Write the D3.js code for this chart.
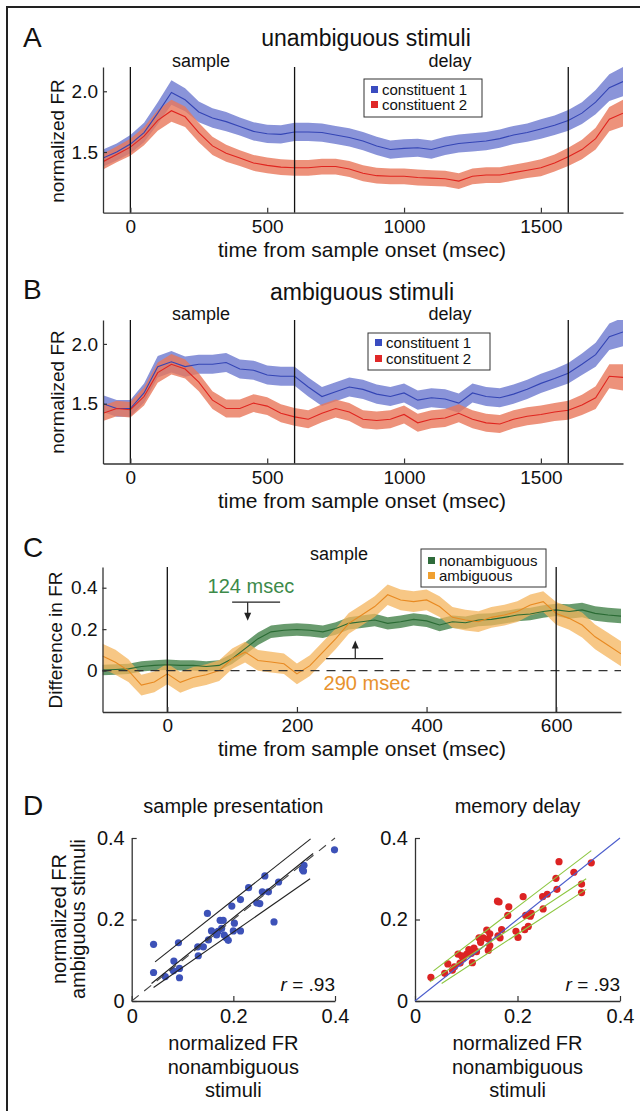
<!DOCTYPE html>
<html>
<head>
<meta charset="utf-8">
<script src="https://cdn.jsdelivr.net/npm/d3@7"></script>
<style>
  body { margin: 0; background: #fff; }
  text { font-family: "Liberation Sans", Arial, Helvetica, sans-serif; }
</style>
</head>
<body>
<div id="fig"></div>
<script>
// ---- panel A / B : normalized FR time courses (50 ms grid) ----
var timesAB = [-100,-50,0,50,100,150,200,250,300,350,400,450,500,550,600,650,700,750,800,850,
  900,950,1000,1050,1100,1150,1200,1250,1300,1350,1400,1450,1500,1550,1600,1650,1700,1750,1800];

var unambigC1 = [1.45,1.50,1.565,1.66,1.82,1.99,1.93,1.83,1.78,1.75,1.71,1.67,1.65,1.645,1.665,1.665,1.66,1.64,1.62,1.59,
  1.55,1.52,1.53,1.535,1.52,1.55,1.57,1.58,1.59,1.61,1.64,1.66,1.69,1.72,1.76,1.82,1.91,2.03,2.08];
var unambigC1Sem = [0.07,0.07,0.075,0.08,0.09,0.10,0.095,0.085,0.08,0.08,0.075,0.075,0.075,0.075,0.075,0.075,0.075,0.075,0.075,0.075,
  0.075,0.075,0.075,0.075,0.075,0.075,0.075,0.075,0.075,0.075,0.075,0.075,0.08,0.08,0.085,0.09,0.10,0.11,0.12];
var unambigC2 = [1.42,1.48,1.54,1.63,1.76,1.84,1.79,1.66,1.55,1.49,1.45,1.41,1.39,1.375,1.37,1.37,1.38,1.38,1.36,1.325,
  1.305,1.30,1.30,1.29,1.285,1.28,1.26,1.30,1.31,1.31,1.33,1.35,1.37,1.41,1.46,1.52,1.61,1.77,1.82];
var unambigC2Sem = [0.065,0.065,0.07,0.075,0.085,0.09,0.085,0.08,0.075,0.07,0.065,0.065,0.065,0.065,0.065,0.065,0.065,0.065,0.065,0.065,
  0.065,0.065,0.065,0.065,0.065,0.065,0.065,0.065,0.065,0.065,0.065,0.065,0.07,0.07,0.075,0.08,0.09,0.10,0.11];

var ambigC1 = [1.50,1.46,1.46,1.59,1.81,1.85,1.81,1.83,1.83,1.845,1.79,1.78,1.74,1.73,1.73,1.64,1.56,1.60,1.64,1.62,
  1.58,1.56,1.59,1.53,1.55,1.54,1.505,1.59,1.56,1.55,1.58,1.62,1.67,1.71,1.755,1.83,1.91,2.06,2.10];
var ambigC1Sem = [0.07,0.07,0.07,0.08,0.09,0.09,0.085,0.08,0.08,0.08,0.08,0.08,0.08,0.08,0.08,0.08,0.08,0.08,0.08,0.08,
  0.08,0.08,0.08,0.08,0.08,0.08,0.08,0.08,0.08,0.08,0.08,0.08,0.08,0.08,0.085,0.09,0.10,0.11,0.12];
var ambigC2 = [1.42,1.46,1.45,1.56,1.76,1.83,1.79,1.68,1.53,1.46,1.46,1.505,1.48,1.42,1.39,1.37,1.42,1.46,1.43,1.37,
  1.36,1.37,1.41,1.34,1.37,1.38,1.42,1.37,1.34,1.33,1.37,1.395,1.41,1.43,1.445,1.49,1.55,1.73,1.72];
var ambigC2Sem = [0.065,0.065,0.065,0.075,0.085,0.085,0.08,0.075,0.075,0.075,0.075,0.075,0.075,0.075,0.075,0.075,0.075,0.075,0.075,0.075,
  0.075,0.075,0.075,0.075,0.075,0.075,0.075,0.075,0.075,0.075,0.075,0.075,0.075,0.075,0.08,0.085,0.095,0.10,0.11];

var abTicksX = [0, 500, 1000, 1500];
var abTicksY = [1.5, 2.0];
var abEvents = [0, 600, 1600];

// ---- panel C : difference in FR (20 ms grid) ----
var timesC = [-100,-80,-60,-40,-20,0,20,40,60,80,100,120,140,160,180,200,220,240,260,280,300,
  320,340,360,380,400,420,440,460,480,500,520,540,560,580,600,620,640,660,680,700];
var diffNonambig = [0.003,0.005,0.008,0.02,0.025,0.028,0.025,0.025,0.02,0.025,0.057,0.106,0.154,0.187,0.195,0.198,0.195,0.187,0.203,0.228,0.236,
  0.244,0.228,0.236,0.247,0.24,0.22,0.236,0.231,0.244,0.247,0.257,0.268,0.273,0.285,0.293,0.285,0.293,0.276,0.268,0.263];
var diffNonambigSem = [0.025,0.025,0.025,0.025,0.025,0.025,0.025,0.025,0.025,0.025,0.025,0.03,0.03,0.03,0.03,0.03,0.03,0.03,0.03,0.03,0.03,
  0.03,0.03,0.03,0.03,0.03,0.03,0.03,0.03,0.03,0.03,0.03,0.03,0.03,0.03,0.03,0.035,0.035,0.035,0.035,0.035];
var diffAmbig = [0.07,0.04,0.0,-0.07,-0.055,-0.016,-0.057,-0.033,-0.02,0.0,0.057,0.089,0.049,0.041,0.033,-0.016,0.024,0.089,0.154,0.228,0.268,
  0.309,0.366,0.341,0.333,0.341,0.309,0.257,0.244,0.236,0.257,0.268,0.285,0.317,0.333,0.276,0.252,0.22,0.163,0.122,0.081];
var diffAmbigSem = [0.06,0.06,0.055,0.05,0.05,0.05,0.05,0.05,0.05,0.05,0.05,0.05,0.05,0.05,0.05,0.05,0.05,0.05,0.05,0.05,0.05,
  0.05,0.05,0.05,0.05,0.05,0.05,0.05,0.05,0.05,0.05,0.05,0.05,0.05,0.05,0.055,0.055,0.06,0.06,0.06,0.06];
var cTicksX = [0, 200, 400, 600];
var cTicksY = [0, 0.2, 0.4];
var cEvents = [0, 600];

// ---- panel D : scatter of normalized FR ----
var sampleX = [0.043,0.043,0.066,0.083,0.082,0.094,0.094,0.092,0.130,0.131,0.141,0.149,0.151,0.157,0.167,0.170,0.174,0.177,0.180,0.182,
  0.186,0.190,0.197,0.200,0.202,0.214,0.214,0.230,0.246,0.252,0.257,0.262,0.269,0.280,0.289,0.338,0.339,0.336,0.399];
var sampleY = [0.139,0.070,0.060,0.098,0.074,0.080,0.057,0.143,0.133,0.111,0.133,0.215,0.150,0.172,0.162,0.171,0.198,0.178,0.198,0.162,
  0.155,0.149,0.233,0.172,0.191,0.172,0.249,0.278,0.241,0.239,0.268,0.307,0.268,0.194,0.292,0.319,0.333,0.323,0.371];
var sampleFits = [[0.046,0.096,0.352,0.398],[0.039,0.043,0.357,0.362],[0.043,0.033,0.351,0.300]];

var delayX = [0.031,0.058,0.064,0.073,0.077,0.084,0.088,0.091,0.094,0.101,0.105,0.110,0.112,0.115,0.120,0.125,0.128,0.133,0.140,0.143,
  0.146,0.143,0.146,0.161,0.164,0.162,0.169,0.166,0.181,0.183,0.197,0.201,0.211,0.214,0.216,0.221,0.225,0.227,0.250,0.249,
  0.258,0.275,0.277,0.281,0.310,0.325,0.325,0.344];
var delayY = [0.058,0.068,0.091,0.076,0.084,0.115,0.093,0.111,0.105,0.115,0.126,0.117,0.094,0.130,0.121,0.155,0.144,0.155,0.174,0.124,
  0.136,0.152,0.165,0.245,0.243,0.160,0.175,0.155,0.210,0.231,0.171,0.156,0.256,0.175,0.210,0.183,0.208,0.215,0.226,0.256,
  0.262,0.301,0.274,0.342,0.316,0.287,0.266,0.339];
var delayFits = [[0.036,0.074,0.344,0.369],[0.029,0.047,0.334,0.300],[0.052,0.043,0.334,0.274]];
var identity = [0, 0, 0.4, 0.4];
var dTicks = [0, 0.2, 0.4];

// ------------------------------------------------------------------
var svg = d3.select('#fig').append('svg')
  .attr('width', 640).attr('height', 1111);

svg.append('rect').attr('width', 640).attr('height', 1111).attr('fill', '#fff');

// frame (left and top edges)
svg.append('path').attr('d', 'M7,1111 V7 H640')
  .attr('fill', 'none').attr('stroke', '#222').attr('stroke-width', 2);

function addText(x, y, s, size, anchor, color, rot) {
  var t = svg.append('text')
    .attr('x', x).attr('y', y)
    .attr('font-size', size)
    .attr('text-anchor', anchor || 'middle')
    .attr('fill', color || '#111')
    .text(s);
  if (rot) t.attr('transform', 'rotate(' + rot + ',' + x + ',' + y + ')');
  return t;
}

function styleAxis(g, size) {
  g.attr('font-size', size);
  g.select('.domain').attr('stroke', '#333').attr('stroke-width', 1.3);
  g.selectAll('.tick line').attr('stroke', '#333').attr('stroke-width', 1.2);
  g.selectAll('.tick text').attr('fill', '#111');
}

var clipId = 0;
function drawTimePanel(p) {
  var x = d3.scaleLinear().domain(p.xDomain).range([p.left, p.right]);
  var y = d3.scaleLinear().domain(p.yDomain).range([p.bottom, p.top]);
  var id = 'clip' + (clipId++);
  svg.append('clipPath').attr('id', id).append('rect')
    .attr('x', p.left).attr('y', p.top)
    .attr('width', p.right - p.left).attr('height', p.bottom - p.top);
  var g = svg.append('g').attr('clip-path', 'url(#' + id + ')');

  p.series.forEach(function(s) {
    var rows = p.times.map(function(t, i) { return {t: t, m: s.mean[i], e: s.sem[i]}; });
    g.append('path').datum(rows)
      .attr('fill', s.band).attr('fill-opacity', s.op)
      .attr('d', d3.area()
        .x(function(d) { return x(d.t); })
        .y0(function(d) { return y(d.m - d.e); })
        .y1(function(d) { return y(d.m + d.e); }));
  });
  p.series.forEach(function(s) {
    var rows = p.times.map(function(t, i) { return {t: t, m: s.mean[i]}; });
    g.append('path').datum(rows)
      .attr('fill', 'none').attr('stroke', s.line).attr('stroke-width', 1.1)
      .attr('d', d3.line()
        .x(function(d) { return x(d.t); })
        .y(function(d) { return y(d.m); }));
  });

  if (p.zeroLine) {
    svg.append('line')
      .attr('x1', p.left).attr('x2', p.right)
      .attr('y1', y(0)).attr('y2', y(0))
      .attr('stroke', '#333').attr('stroke-width', 1.2)
      .attr('stroke-dasharray', '9,7');
  }

  svg.selectAll(null).data(p.events).enter().append('line')
    .attr('x1', function(d) { return x(d); })
    .attr('x2', function(d) { return x(d); })
    .attr('y1', p.top).attr('y2', p.bottom)
    .attr('stroke', '#111').attr('stroke-width', 1.3);

  var xa = svg.append('g')
    .attr('transform', 'translate(0,' + p.bottom + ')')
    .call(d3.axisBottom(x).tickValues(p.xTicks).tickSize(-5).tickSizeOuter(0).tickPadding(7)
      .tickFormat(d3.format('d')));
  styleAxis(xa, 19);

  var ya = svg.append('g')
    .attr('transform', 'translate(' + p.left + ',0)')
    .call(d3.axisLeft(y).tickValues(p.yTicks).tickSize(-4).tickSizeOuter(0).tickPadding(5)
      .tickFormat(p.yFormat));
  styleAxis(ya, 19);

  return {x: x, y: y};
}

function drawLegend(x0, y0, w, h, items, baselines) {
  svg.append('rect')
    .attr('x', x0).attr('y', y0).attr('width', w).attr('height', h)
    .attr('fill', '#fff').attr('stroke', '#333').attr('stroke-width', 1);
  items.forEach(function(it, i) {
    svg.append('rect')
      .attr('x', x0 + 7).attr('y', baselines[i] - 9)
      .attr('width', 7).attr('height', 7)
      .attr('fill', it.color);
    addText(x0 + 18, baselines[i], it.label, 15, 'start');
  });
}

var fmt1 = d3.format('.1f');
var fmtD = function(d) { return d === 0 ? '0' : fmt1(d); };

// ---------------- panel A ----------------
addText(23, 47, 'A', 28, 'start');
addText(366, 46, 'unambiguous stimuli', 23);
addText(201, 67, 'sample', 18);
addText(450, 67, 'delay', 18);
drawTimePanel({
  left: 103, right: 623, top: 67, bottom: 212.7,
  xDomain: [-100, 1800], yDomain: [1.0, 2.2],
  times: timesAB,
  series: [
    {mean: unambigC1, sem: unambigC1Sem, band: '#6d79cf', op: 0.8, line: '#3445b5'},
    {mean: unambigC2, sem: unambigC2Sem, band: '#e8775a', op: 0.8, line: '#e0251f'}
  ],
  events: abEvents, xTicks: abTicksX, yTicks: abTicksY, yFormat: fmt1
});
drawLegend(364, 79, 118, 38,
  [{label: 'constituent 1', color: '#3a4cc0'}, {label: 'constituent 2', color: '#e02828'}], [95, 110]);
addText(64, 141, 'normalized FR', 19, 'middle', '#111', -90);
addText(362, 257, 'time from sample onset (msec)', 21);

// ---------------- panel B ----------------
addText(23, 299, 'B', 28, 'start');
addText(362, 300, 'ambiguous stimuli', 23);
addText(201, 320, 'sample', 18);
addText(450, 320, 'delay', 18);
drawTimePanel({
  left: 103, right: 623, top: 320, bottom: 463.5,
  xDomain: [-100, 1800], yDomain: [1.0, 2.2],
  times: timesAB,
  series: [
    {mean: ambigC1, sem: ambigC1Sem, band: '#6d79cf', op: 0.8, line: '#3445b5'},
    {mean: ambigC2, sem: ambigC2Sem, band: '#e8775a', op: 0.8, line: '#e0251f'}
  ],
  events: abEvents, xTicks: abTicksX, yTicks: abTicksY, yFormat: fmt1
});
drawLegend(368, 333, 122, 37,
  [{label: 'constituent 1', color: '#3a4cc0'}, {label: 'constituent 2', color: '#e02828'}], [348, 364]);
addText(64, 392, 'normalized FR', 19, 'middle', '#111', -90);
addText(362, 508, 'time from sample onset (msec)', 21);

// ---------------- panel C ----------------
addText(23, 557, 'C', 28, 'start');
addText(339, 560, 'sample', 18);
var pc = drawTimePanel({
  left: 102.5, right: 621, top: 567, bottom: 712,
  xDomain: [-100, 700], yDomain: [-0.2, 0.5],
  times: timesC,
  series: [
    {mean: diffNonambig, sem: diffNonambigSem, band: '#4f8a55', op: 0.85, line: '#2a6b34'},
    {mean: diffAmbig, sem: diffAmbigSem, band: '#f4b45c', op: 0.75, line: '#e88a22'}
  ],
  events: cEvents, xTicks: cTicksX, yTicks: cTicksY, yFormat: fmtD, zeroLine: true
});
drawLegend(421, 549, 125, 38,
  [{label: 'nonambiguous', color: '#2f6b3b'}, {label: 'ambiguous', color: '#f0a030'}], [566, 581]);
addText(62, 640, 'Difference in FR', 19, 'middle', '#111', -90);
addText(362, 756, 'time from sample onset (msec)', 21);

// onset annotations
var onsetMarks = [
  {t: 124, from: 0.33, to: 0.24, bar: [100, 174], label: '124 msec', lx: 129, ly: 0.375, color: '#3d8a4a'},
  {t: 290, from: 0.058, to: 0.145, bar: [245, 333], label: '290 msec', lx: 308, ly: -0.095, color: '#e8922e'}
];
onsetMarks.forEach(function(m) {
  var x = pc.x, y = pc.y;
  svg.append('line')
    .attr('x1', x(m.bar[0])).attr('x2', x(m.bar[1]))
    .attr('y1', y(m.from)).attr('y2', y(m.from))
    .attr('stroke', '#222').attr('stroke-width', 1.2);
  var dir = m.to < m.from ? 1 : -1;
  var yEnd = y(m.to);
  svg.append('line')
    .attr('x1', x(m.t)).attr('x2', x(m.t))
    .attr('y1', y(m.from)).attr('y2', yEnd - dir * 4)
    .attr('stroke', '#222').attr('stroke-width', 1.2);
  svg.append('path')
    .attr('d', 'M' + (x(m.t) - 3.5) + ',' + (yEnd - dir * 8) + 'L' + x(m.t) + ',' + yEnd +
      'L' + (x(m.t) + 3.5) + ',' + (yEnd - dir * 8) + 'Z')
    .attr('fill', '#222');
  addText(x(m.lx), y(m.ly), m.label, 20, 'middle', m.color);
});

// ---------------- panel D ----------------
addText(23, 815, 'D', 28, 'start');

function drawScatter(p) {
  var x = d3.scaleLinear().domain([0, 0.4]).range([p.left, p.right]);
  var y = d3.scaleLinear().domain([0, 0.4]).range([1001, 838]);

  var xa = svg.append('g').attr('transform', 'translate(0,1001)')
    .call(d3.axisBottom(x).tickValues(dTicks).tickSize(-5).tickSizeOuter(0).tickPadding(8).tickFormat(fmtD));
  styleAxis(xa, 20);
  var ya = svg.append('g').attr('transform', 'translate(' + p.left + ',0)')
    .call(d3.axisLeft(y).tickValues(dTicks).tickSize(-5).tickSizeOuter(0).tickPadding(7).tickFormat(fmtD));
  styleAxis(ya, 20);

  var pts = p.xs.map(function(v, i) { return [v, p.ys[i]]; });
  svg.selectAll(null).data(pts).enter().append('circle')
    .attr('cx', function(d) { return x(d[0]); })
    .attr('cy', function(d) { return y(d[1]); })
    .attr('r', 3.6)
    .attr('fill', p.dot);

  var idLine = svg.append('line')
    .attr('x1', x(identity[0])).attr('y1', y(identity[1]))
    .attr('x2', x(identity[2])).attr('y2', y(identity[3]))
    .attr('stroke', p.idColor).attr('stroke-width', 1.1);
  if (p.idDash) idLine.attr('stroke-dasharray', '9,7');

  svg.selectAll(null).data(p.fits).enter().append('line')
    .attr('x1', function(d) { return x(d[0]); })
    .attr('y1', function(d) { return y(d[1]); })
    .attr('x2', function(d) { return x(d[2]); })
    .attr('y2', function(d) { return y(d[3]); })
    .attr('stroke', p.fitColor).attr('stroke-width', 1.1);

  var cx = (p.left + p.right) / 2;
  addText(cx, 813, p.title, 20);
  var r = addText(p.right, 991, '', 19, 'end');
  r.append('tspan').attr('font-style', 'italic').text('r');
  r.append('tspan').text(' = .93');
  addText(cx, 1050, 'normalized FR', 20);
  addText(cx, 1074, 'nonambiguous', 20);
  addText(cx, 1097, 'stimuli', 20);
}

drawScatter({left: 131.7, right: 335, xs: sampleX, ys: sampleY, fits: sampleFits,
  dot: '#3d52b8', fitColor: '#222', idColor: '#444', idDash: true, title: 'sample presentation'});
drawScatter({left: 415, right: 620, xs: delayX, ys: delayY, fits: delayFits,
  dot: '#dc2323', fitColor: '#8cc63f', idColor: '#4a5ccc', idDash: false, title: 'memory delay'});

addText(66, 919, 'normalized FR', 20, 'middle', '#111', -90);
addText(85, 919, 'ambiguous stimuli', 20, 'middle', '#111', -90);
</script>
</body>
</html>
